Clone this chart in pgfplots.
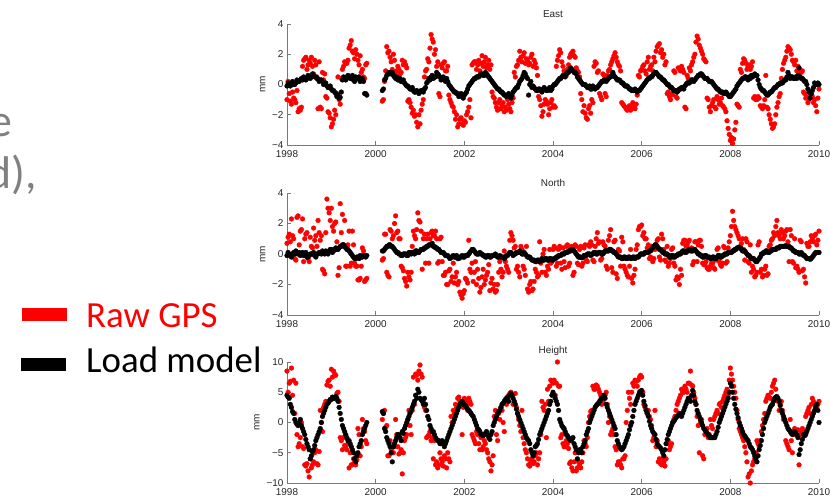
\documentclass[border=0pt]{standalone}
\usepackage{pgfplots}
\pgfplotsset{compat=1.18}
\usepackage{pgfplotstable}
\usepackage{fontspec}
\setmainfont{Carlito}
\newfontfamily\helv{Liberation Sans}
\definecolor{axgray}{RGB}{120,120,120}
\definecolor{slidegray}{RGB}{128,128,128}
\pgfplotstableread{
t eB eR nB nR hB hR
1998.00 -0.1 -1.0 -0.1 0.7 4.5 8.5
1998.05 0.0 -0.6 0.0 1.3 4.0 6.5
1998.10 0.1 -1.3 -0.2 2.3 2.5 9.0
1998.15 0.0 -0.9 0.1 1.0 1.5 7.0
1998.20 0.1 -1.2 0.2 -0.4 0.0 6.5
1998.25 0.2 -1.8 0.0 2.5 -0.5 -4.0
1998.30 0.3 -1.7 -0.1 1.5 0.5 -2.5
1998.35 0.3 1.2 0.1 2.3 -1.0 -4.0
1998.40 0.4 1.7 0.0 1.0 -2.0 -7.0
1998.45 0.4 1.0 -0.2 1.4 -3.5 -6.8
1998.50 0.5 1.6 -0.1 -0.5 -4.5 -9.0
1998.55 0.5 1.8 0.0 0.5 -5.5 -7.5
1998.60 0.6 0.7 0.1 1.7 -4.5 -6.5
1998.65 0.5 1.3 -0.2 1.2 -3.0 -4.5
1998.70 0.35 -1.6 0.0 2.2 -2.0 -7.0
1998.75 0.3 -1.5 0.1 0.9 -1.0 2.0
1998.80 0.2 0.8 0.2 -1.0 1.0 -1.5
1998.85 0.1 0.7 0.0 -1.3 2.0 3.0
1998.90 -0.1 -0.9 0.1 3.6 3.0 6.2
1998.95 -0.2 -1.9 0.2 2.7 3.5 7.0
1999.00 -0.3 -2.8 0.3 3.0 3.8 8.8
1999.05 -0.4 -2.3 0.2 1.5 4.0 8.5
1999.10 -0.6 -2.0 0.4 2.1 4.3 7.8
1999.15 -0.7 0.5 0.3 -1.4 3.5 5.0
1999.20 -0.85 -1.3 0.5 3.3 1.5 -2.5
1999.25 0.3 1.0 0.6 2.6 -0.5 -4.5
1999.30 0.4 1.5 0.5 2.2 -1.5 -3.8
1999.35 0.5 1.4 0.3 -0.8 -2.5 -4.5
1999.40 0.5 2.4 0.2 1.5 -3.0 -7.5
1999.45 0.4 2.9 0.0 -0.6 -4.0 -7.0
1999.50 0.3 2.1 -0.2 0.6 -5.0 -6.0
1999.55 0.5 2.3 -0.3 -0.8 -6.5 -7.0
1999.60 0.4 1.6 -0.2 -1.7 -5.0 -1.0
1999.65 0.2 1.9 -0.1 -1.6 -3.5 -5.5
1999.70 0.4 1.0 -0.2 0.4 -2.0 0.5
1999.75 -0.6 0.4 -0.1 -1.8 -1.0 -1.5
1999.80 -0.7 1.4 -0.1 -1.6 0.0 -3.5
2000.15 -0.4 -1.1 0.2 -0.4 1.8 0.5
2000.20 0.3 0.2 0.3 1.3 -1.0 2.0
2000.25 0.6 2.5 0.5 -1.2 -2.5 -0.5
2000.30 0.8 2.2 0.6 -1.5 -3.5 -5.5
2000.35 0.8 1.5 0.5 1.5 -5.0 -4.5
2000.40 0.6 2.0 0.4 1.2 -4.0 -5.0
2000.45 0.4 0.8 0.2 2.5 -3.0 0.5
2000.50 0.3 1.2 0.1 1.5 -2.0 -4.0
2000.55 0.4 0.7 0.0 1.0 -2.5 -5.0
2000.60 0.2 1.6 -0.1 -0.9 -1.5 -8.5
2000.65 0.1 1.5 0.0 -1.6 -1.0 -3.0
2000.70 -0.1 1.1 -0.1 -2.1 0.0 -2.0
2000.75 -0.2 -1.0 0.1 -1.5 1.0 2.0
2000.80 -0.3 -1.5 0.0 -1.2 2.0 -2.0
2000.85 -0.4 -1.7 0.1 1.5 3.0 7.5
2000.90 -0.5 -2.0 0.2 1.0 4.5 8.0
2000.95 -0.45 -2.8 0.1 2.7 5.5 7.0
2001.00 -0.5 -2.6 0.2 2.1 4.0 9.5
2001.05 -0.4 -1.3 0.3 -1.0 3.5 7.5
2001.10 -0.3 0.5 0.4 1.3 4.0 2.5
2001.15 0.1 1.0 0.5 1.0 2.0 -2.5
2001.20 0.4 1.5 0.6 -0.6 0.5 -2.0
2001.25 0.5 3.3 0.6 1.4 -1.0 -3.0
2001.30 0.4 2.8 0.5 1.2 -1.5 -6.0
2001.35 0.5 2.3 0.4 1.5 -2.5 -7.0
2001.40 0.7 1.5 0.3 -0.6 -3.0 -7.5
2001.45 0.5 -0.8 0.2 1.0 -3.5 -5.0
2001.50 0.4 1.1 0.1 -0.5 -3.0 -6.5
2001.55 0.3 1.5 0.0 -1.4 -4.0 -5.5
2001.60 0.4 0.9 -0.1 -2.0 -3.0 -7.5
2001.65 0.0 -0.7 -0.2 -1.1 -2.0 -6.0
2001.70 -0.2 -1.2 -0.2 -1.8 -1.0 1.0
2001.75 -0.4 -1.5 -0.1 -0.6 0.0 2.0
2001.80 -0.5 -2.3 -0.2 -1.5 1.0 3.0
2001.85 -0.6 -2.8 -0.3 -2.0 2.0 4.0
2001.90 -0.7 -2.3 -0.2 -2.5 3.0 3.5
2001.95 -0.8 -2.6 -0.1 -2.9 3.5 -2.0
2002.00 -0.7 -2.4 -0.2 -2.4 3.0 4.0
2002.05 -0.5 -2.0 -0.1 -1.7 2.5 3.0
2002.10 -0.1 -1.5 0.0 0.9 2.0 4.0
2002.15 0.1 -2.2 0.2 -1.2 1.5 3.0
2002.20 0.3 1.4 0.3 -1.8 1.0 -2.5
2002.25 0.4 1.5 0.1 -0.5 0.0 -3.5
2002.30 0.5 1.3 0.0 -1.0 -1.0 -2.0
2002.35 0.6 0.9 0.1 -2.5 -1.5 -4.5
2002.40 0.7 1.9 0.0 -1.5 -2.0 -4.5
2002.45 0.6 1.5 -0.1 -2.0 -2.0 -3.0
2002.50 0.7 1.1 -0.2 -1.4 -1.5 -4.5
2002.55 0.5 1.6 -0.1 -0.7 -2.5 -6.0
2002.60 0.3 1.3 -0.2 -1.9 -2.0 -8.0
2002.65 0.1 -0.8 -0.1 -2.3 -0.5 -5.5
2002.70 -0.1 -1.2 0.0 -2.5 0.5 2.0
2002.75 -0.3 -1.7 -0.2 -2.0 1.5 -3.0
2002.80 -0.4 -1.0 -0.1 -0.5 2.0 0.5
2002.85 -0.5 -1.4 -0.2 -1.5 3.0 2.0
2002.90 -0.7 -1.8 -0.3 0.2 3.5 -1.5
2002.95 -0.8 -1.7 -0.1 -0.8 4.0 3.0
2003.00 -0.6 -1.3 0.0 -1.2 3.5 4.5
2003.05 -0.9 -1.8 0.1 1.4 4.8 5.0
2003.10 -0.5 -0.9 -0.1 0.9 4.0 3.0
2003.15 -0.3 0.5 0.0 0.5 3.0 4.8
2003.20 -0.2 1.3 0.1 -0.8 1.5 1.5
2003.25 0.2 2.2 0.2 -1.5 0.5 -0.5
2003.30 0.4 1.5 0.0 0.3 -0.5 2.0
2003.35 0.8 2.1 0.1 -1.0 -1.5 -3.5
2003.40 0.5 1.7 -0.1 0.5 -2.5 -5.0
2003.45 -0.7 1.3 -0.2 -2.5 -3.0 -7.0
2003.50 0.2 1.8 -0.3 -1.8 -4.5 -6.5
2003.55 -0.1 1.2 -0.4 -2.3 -5.5 -6.8
2003.60 -0.3 1.4 -0.5 -1.0 -4.0 -5.5
2003.65 -0.4 0.6 -0.4 -1.5 -3.5 -7.0
2003.70 -0.3 -1.0 -0.5 0.8 -2.0 -5.0
2003.75 -0.5 -2.1 -0.3 -1.2 -1.0 3.5
2003.80 -0.2 -1.3 -0.4 0.3 0.0 2.0
2003.85 -0.4 -1.1 -0.3 -1.4 1.0 -2.5
2003.90 -0.3 -2.0 -0.4 -1.0 2.0 3.5
2003.95 -0.4 -1.2 -0.3 -0.6 3.5 7.0
2004.00 -0.1 -1.5 -0.4 0.3 5.0 6.5
2004.05 0.0 -1.5 -0.3 0.4 4.0 4.5
2004.10 0.2 1.6 -0.2 -0.6 3.0 10.0
2004.15 0.4 2.3 -0.1 0.5 0.5 6.0
2004.20 0.5 1.5 0.0 -1.0 -0.5 -2.0
2004.25 0.6 0.9 0.0 -0.5 -1.0 -4.0
2004.30 0.7 0.6 0.1 0.5 -2.0 -3.0
2004.35 0.8 1.3 0.2 -0.8 -2.5 -4.3
2004.40 1.1 2.0 0.2 0.4 -3.0 -6.5
2004.45 0.9 2.2 0.3 -1.4 -2.5 -8.0
2004.50 0.8 1.8 0.1 0.6 -4.0 -5.0
2004.55 0.5 0.9 -0.1 -0.6 -6.0 -7.5
2004.60 0.3 0.5 -0.2 0.3 -4.5 -7.0
2004.65 0.1 -1.0 -0.25 -0.8 -5.0 -6.5
2004.70 0.0 -1.4 -0.1 0.4 -3.5 -3.0
2004.75 -0.1 -2.2 -0.1 -0.4 -2.0 -4.0
2004.80 -0.2 -1.6 0.0 0.6 -1.0 0.0
2004.85 -0.3 -1.9 -0.1 0.8 0.5 1.8
2004.90 -0.1 -1.2 0.0 -0.4 1.5 6.0
2004.95 -0.3 1.5 0.1 0.5 2.5 5.5
2005.00 -0.2 0.8 0.0 1.4 3.0 6.0
2005.05 0.0 -0.6 0.1 0.8 3.5 5.0
2005.10 0.2 -1.0 0.0 -0.3 4.0 3.0
2005.15 0.3 0.6 0.1 0.6 4.5 4.0
2005.20 0.2 -0.8 0.2 -0.8 3.0 5.0
2005.25 0.4 0.9 0.2 0.9 2.0 0.0
2005.30 0.5 1.3 0.3 1.6 1.0 -2.0
2005.35 0.8 1.7 0.2 -1.2 0.0 -1.0
2005.40 0.5 2.1 0.1 0.9 -1.0 -4.0
2005.45 0.3 1.5 -0.1 -1.6 -3.0 -7.0
2005.50 0.3 1.2 -0.2 0.2 -4.0 -6.5
2005.55 0.1 -1.2 -0.3 1.1 -4.5 -7.5
2005.60 0.0 -1.4 -0.2 -0.8 -4.0 -6.0
2005.65 -0.1 -1.6 -0.3 -1.2 -3.0 0.0
2005.70 -0.2 -1.5 -0.2 -1.5 -2.0 5.0
2005.75 -0.3 -1.7 -0.3 0.3 -0.5 3.0
2005.80 -0.4 -1.2 -0.2 -1.9 1.0 6.5
2005.85 -0.3 -1.6 -0.3 -1.0 3.0 7.0
2005.90 -0.5 -0.7 -0.2 0.6 4.0 6.0
2005.95 -0.4 0.5 -0.1 1.8 5.0 7.5
2006.00 -0.2 1.0 0.0 1.9 5.3 7.5
2006.05 0.0 1.3 0.0 1.4 3.5 3.0
2006.10 0.2 0.7 0.1 1.0 2.0 2.0
2006.15 0.4 1.8 0.1 0.6 1.0 2.0
2006.20 0.5 1.2 0.2 -0.2 -0.5 0.5
2006.25 0.6 0.9 0.4 -0.5 -1.5 -3.0
2006.30 0.8 1.5 0.6 0.3 -2.0 2.0
2006.35 0.7 2.5 0.5 0.9 -3.5 -3.0
2006.40 0.5 2.7 0.3 -0.2 -4.0 -6.0
2006.45 0.4 2.3 0.2 1.3 -4.5 -7.0
2006.50 0.3 2.0 0.1 0.3 -5.5 -6.5
2006.55 0.1 1.5 0.0 -0.5 -3.5 -6.0
2006.60 0.0 -0.5 -0.1 -0.8 -2.0 -3.0
2006.65 -0.2 -1.0 -0.2 -0.3 -1.0 -4.0
2006.70 -0.3 -0.6 -0.1 0.4 0.0 0.0
2006.75 -0.4 0.8 -0.2 -0.8 0.5 1.0
2006.80 -0.5 -0.9 -0.1 -1.5 1.0 3.0
2006.85 -0.3 1.0 0.0 -2.0 1.5 4.0
2006.90 -0.2 1.2 0.1 -1.4 1.0 5.5
2006.95 -0.3 0.8 0.2 0.9 2.0 5.0
2007.00 0.0 -1.6 0.1 0.5 3.0 5.5
2007.05 0.1 0.4 0.2 0.8 4.0 6.5
2007.10 0.2 0.9 0.3 0.2 3.5 8.5
2007.15 0.3 1.5 0.2 -0.7 5.3 6.0
2007.20 0.3 2.0 0.3 0.8 3.5 4.0
2007.25 0.5 3.2 0.1 -0.5 2.0 1.0
2007.30 0.6 2.6 0.0 0.9 1.0 -5.0
2007.35 0.7 2.2 -0.1 0.5 0.0 0.5
2007.40 0.5 1.7 -0.2 -0.7 -1.0 -6.0
2007.45 0.4 1.5 -0.1 -0.5 -1.5 -1.5
2007.50 0.3 -1.0 -0.2 -1.0 -2.0 -2.5
2007.55 0.2 -1.8 -0.3 -0.8 -2.5 0.5
2007.60 0.1 -1.2 -0.2 -0.6 -2.5 -1.0
2007.65 -0.1 -1.5 -0.3 -1.0 -2.5 1.0
2007.70 -0.3 -0.8 -0.2 0.3 -1.5 2.0
2007.75 -0.4 -1.3 -0.1 -0.5 0.0 3.0
2007.80 -0.5 -0.9 -0.2 -0.8 1.0 2.5
2007.85 -0.6 -1.5 -0.1 0.5 2.0 4.0
2007.90 -0.5 -1.8 0.0 -0.6 3.0 5.0
2007.95 -0.7 -2.9 0.1 0.4 4.0 4.5
2008.00 -0.8 -3.7 0.1 1.2 6.5 9.0
2008.05 -0.6 -3.9 0.2 2.8 5.0 7.0
2008.10 -0.4 -3.0 0.3 1.8 3.0 5.0
2008.15 -0.1 -1.3 0.4 1.4 1.5 2.0
2008.20 0.1 -1.5 0.45 1.0 0.0 -1.0
2008.25 0.3 0.8 0.3 0.7 -1.0 -2.0
2008.30 0.4 1.7 0.2 0.3 -2.0 -3.0
2008.35 0.5 1.4 0.1 1.0 -2.5 -5.0
2008.40 0.3 1.2 -0.1 -0.5 -3.0 -9.0
2008.45 0.4 1.0 -0.2 0.6 -4.0 -10.0
2008.50 0.5 1.5 -0.3 -0.8 -4.5 -7.0
2008.55 0.7 -0.8 -0.4 -1.5 -5.5 -6.0
2008.60 0.6 -1.0 -0.5 -1.2 -6.5 -3.0
2008.65 0.0 -0.9 -0.3 0.8 -4.5 -4.0
2008.70 -0.3 -1.5 0.0 -1.0 -3.0 -1.5
2008.75 -0.4 -1.4 0.1 -1.4 -1.0 0.5
2008.80 -0.6 0.6 0.2 -0.8 0.5 3.5
2008.85 -0.7 -1.6 0.1 -1.3 1.5 4.5
2008.90 -0.5 -2.3 0.2 0.6 2.5 4.0
2008.95 -0.4 -2.9 0.3 1.0 3.0 6.0
2009.00 -0.2 -2.6 0.3 1.2 4.0 7.0
2009.05 -0.1 -1.5 0.4 2.2 4.3 4.0
2009.10 0.0 -0.8 0.4 1.2 3.5 2.0
2009.15 0.1 0.4 0.5 1.6 2.0 3.5
2009.20 0.2 1.4 0.5 1.0 1.0 0.5
2009.25 0.3 1.8 0.55 1.5 0.0 -3.0
2009.30 0.8 2.5 0.5 0.8 -1.0 -4.0
2009.35 0.4 2.3 0.4 1.6 -1.5 0.5
2009.40 0.5 1.6 0.3 -0.5 -2.0 -5.0
2009.45 0.4 1.3 0.2 1.0 -1.5 -1.0
2009.50 0.4 0.9 0.1 -0.8 -2.0 -2.0
2009.55 1.1 1.0 0.0 -1.2 -5.3 -7.0
2009.60 0.4 0.8 0.1 0.8 -3.5 -1.5
2009.65 0.3 -0.5 -0.1 -1.0 -2.0 -2.0
2009.70 0.2 -0.9 -0.2 -1.9 -2.0 1.0
2009.75 -0.3 -1.2 -0.3 0.5 -1.0 2.0
2009.80 -0.9 -0.6 -0.35 0.8 0.0 1.5
2009.85 -0.4 -0.8 -0.2 1.0 1.0 4.0
2009.90 0.1 -1.0 0.0 1.2 2.0 3.0
2009.95 0.0 -1.8 0.1 0.6 3.0 2.5
2010.00 0.0 -0.3 0.1 1.5 0.0 3.5
}\gpsa
\pgfplotstableread{
t eB eR nB nR hB hR
1998.025 0.1 0.2 0.1 1.1 4.2 5.0
1998.075 -0.1 -1.1 -0.1 0.8 3.0 6.8
1998.125 0.2 -0.5 0.0 1.2 1.8 4.5
1998.175 0.0 -1.0 0.0 -0.3 0.5 1.5
1998.225 0.3 -0.4 0.1 2.4 -0.3 -2.0
1998.275 0.2 -1.6 0.1 0.6 0.0 -3.5
1998.325 0.4 -1.5 0.0 1.6 -0.5 0.0
1998.375 0.5 1.6 -0.1 -0.5 -1.5 -4.3
1998.425 0.3 1.8 0.1 1.3 -2.8 -7.2
1998.475 0.6 1.3 -0.2 -0.3 -4.0 -8.0
1998.525 0.4 1.4 0.0 1.1 -6.0 -6.0
1998.575 0.7 1.2 0.0 0.4 -4.8 -7.0
1998.625 0.5 1.6 -0.1 0.9 -3.8 -5.0
1998.675 0.4 0.5 0.0 0.5 -2.5 -6.8
1998.725 0.2 1.5 0.1 1.4 -1.5 -4.8
1998.775 0.3 -1.6 0.0 1.2 0.0 0.0
1998.825 0.0 0.3 0.1 -1.1 1.5 2.5
1998.875 0.1 -0.8 0.2 1.4 2.5 3.5
1998.925 -0.2 -1.8 0.0 3.0 3.2 6.8
1998.975 -0.1 -2.2 0.3 2.2 3.8 6.0
1999.025 -0.4 -2.6 0.1 1.8 4.2 7.5
1999.075 -0.5 -1.7 0.3 2.0 4.0 8.0
1999.125 -0.8 -0.6 0.3 0.8 4.0 4.8
1999.175 -0.9 -1.0 0.4 -0.9 2.5 3.5
1999.225 -0.5 0.4 0.5 1.4 0.5 -3.0
1999.275 0.5 1.2 0.6 0.6 -1.0 -2.5
1999.325 0.3 1.4 0.4 -0.8 -2.0 -4.0
1999.375 0.6 1.6 0.3 0.6 -3.0 -3.5
1999.425 0.4 2.6 0.1 -0.8 -3.5 -5.0
1999.475 0.6 2.2 -0.1 1.5 -4.5 -7.0
1999.525 0.2 1.7 -0.3 -0.6 -6.0 -6.5
1999.575 0.4 2.0 -0.2 -0.8 -5.5 -6.2
1999.625 0.5 1.3 -0.3 -1.7 -4.0 -2.0
1999.675 0.3 0.8 -0.2 -0.8 -3.0 -4.0
1999.725 0.2 0.5 -0.1 0.2 -1.5 -1.0
1999.775 -0.6 1.3 -0.2 -1.7 -0.5 -3.0
2000.175 -0.3 -1.0 0.2 -0.3 1.5 1.5
2000.225 0.4 0.9 0.4 1.3 -1.5 -0.8
2000.275 0.7 2.1 0.5 -1.4 -3.0 -5.5
2000.325 0.7 1.8 0.6 1.6 -4.0 -3.0
2000.375 0.8 1.0 0.5 1.0 -6.5 -5.0
2000.425 0.5 1.6 0.3 2.0 -3.5 -4.0
2000.475 0.5 0.9 0.1 1.4 -2.5 -2.0
2000.525 0.3 1.0 0.0 1.0 -2.0 -5.2
2000.575 0.2 0.8 -0.1 -0.8 -3.0 -4.5
2000.625 0.3 1.3 0.0 -1.1 -1.8 -5.0
2000.675 0.0 1.3 0.0 -1.8 -0.5 -2.5
2000.725 -0.1 -1.1 -0.1 -1.2 0.5 0.5
2000.775 -0.3 -1.2 0.1 -1.7 1.5 -0.5
2000.825 -0.2 -1.9 0.1 0.5 2.5 2.0
2000.875 -0.5 -2.1 0.0 1.2 3.5 3.0
2000.925 -0.4 -2.5 0.2 1.6 4.0 7.8
2000.975 -0.6 -2.0 0.1 2.2 5.0 8.5
2001.025 -0.4 -1.7 0.3 1.5 3.8 8.0
2001.075 -0.5 -1.0 0.3 1.0 3.0 3.5
2001.125 -0.2 0.9 0.4 -0.6 3.0 2.0
2001.175 0.2 1.7 0.5 1.3 1.0 -2.3
2001.225 0.3 2.4 0.6 1.0 -0.5 -1.5
2001.275 0.6 3.0 0.7 1.5 -1.5 -2.5
2001.325 0.5 2.0 0.5 1.2 -2.0 -3.0
2001.375 0.8 1.2 0.4 1.0 -2.8 -6.5
2001.425 0.6 -0.6 0.3 -0.5 -3.0 -7.0
2001.475 0.3 1.3 0.1 1.1 -3.5 -6.0
2001.525 0.5 1.4 0.1 -1.4 -3.5 -7.2
2001.575 0.2 0.9 -0.1 -1.2 -3.5 -6.0
2001.625 0.2 1.2 -0.1 -2.0 -2.5 -5.0
2001.675 -0.1 -1.0 -0.3 -1.0 -1.5 -6.5
2001.725 -0.3 -1.4 -0.2 -1.5 -0.5 0.0
2001.775 -0.5 -1.8 -0.2 -1.9 0.5 1.5
2001.825 -0.6 -2.0 -0.1 -1.2 1.5 2.5
2001.875 -0.8 -2.6 -0.3 -1.8 2.5 4.2
2001.925 -0.6 -2.2 -0.2 -2.7 3.2 3.0
2001.975 -0.9 -2.7 -0.2 -2.6 3.0 2.5
2002.025 -0.6 -2.5 -0.1 -1.6 2.8 3.5
2002.075 -0.3 -1.8 -0.1 -1.9 2.2 2.0
2002.125 0.0 -1.0 0.1 -1.0 1.8 3.5
2002.175 0.2 1.3 0.3 -0.6 1.2 -2.0
2002.225 0.4 1.5 0.2 -1.2 0.5 -3.0
2002.275 0.5 1.0 0.0 -2.0 -0.5 -1.5
2002.325 0.5 1.6 0.0 -1.6 -1.2 -3.5
2002.375 0.7 1.4 0.0 -2.2 -2.0 -2.5
2002.425 0.6 1.2 -0.1 -1.0 -2.2 -4.0
2002.475 0.8 1.8 -0.2 -1.7 -1.8 -3.5
2002.525 0.6 1.3 -0.1 -1.2 -2.0 -5.0
2002.575 0.4 1.0 -0.2 -2.4 -2.8 -6.5
2002.625 0.2 -0.5 -0.1 -1.6 -1.5 -7.0
2002.675 0.0 -0.9 -0.1 -2.0 0.0 1.0
2002.725 -0.2 -1.5 -0.1 -2.4 1.0 -2.0
2002.775 -0.3 -1.2 -0.2 -1.2 1.8 1.5
2002.825 -0.5 -1.6 -0.2 -1.0 2.5 2.5
2002.875 -0.6 -1.2 -0.2 -1.2 3.2 0.0
2002.925 -0.7 -1.5 -0.2 -0.5 3.8 3.5
2002.975 -0.7 -1.0 -0.1 -1.0 4.2 4.0
2003.025 -0.8 -1.6 0.1 0.9 4.5 4.8
2003.075 -0.7 -1.2 0.0 1.2 4.5 4.5
2003.125 -0.4 0.8 0.0 0.4 3.5 3.5
2003.175 -0.2 1.2 0.1 -1.0 2.2 2.5
2003.225 0.0 1.6 0.1 -1.2 1.0 0.5
2003.275 0.3 1.8 0.1 0.5 0.0 -1.5
2003.325 0.6 1.9 0.0 -0.8 -1.0 -2.5
2003.375 0.7 1.4 0.0 -1.4 -2.0 -4.5
2003.425 0.4 1.6 -0.2 -2.3 -2.8 -6.0
2003.475 0.0 1.4 -0.2 -2.0 -3.5 -7.2
2003.525 -0.2 2.0 -0.4 -2.4 -5.0 -6.0
2003.575 -0.2 1.6 -0.4 -1.8 -5.0 -6.5
2003.625 -0.4 1.1 -0.5 -1.2 -3.8 -5.0
2003.675 -0.3 -0.8 -0.4 -1.4 -2.8 -6.0
2003.725 -0.4 -1.4 -0.4 -0.6 -1.5 -2.0
2003.775 -0.3 -1.8 -0.4 0.0 -0.5 2.5
2003.825 -0.3 -1.0 -0.3 -1.2 0.5 3.0
2003.875 -0.4 -1.3 -0.4 -0.8 1.5 5.5
2003.925 -0.2 -1.6 -0.3 0.3 3.0 6.0
2003.975 -0.3 -1.0 -0.4 -0.5 4.5 6.8
2004.025 0.0 -1.4 -0.3 0.5 4.5 7.0
2004.075 0.1 1.2 -0.2 -0.8 3.5 6.5
2004.125 0.3 1.9 -0.1 0.3 2.0 6.0
2004.175 0.4 2.1 -0.1 -0.6 0.0 -2.5
2004.225 0.6 1.2 0.0 0.4 -0.8 -3.5
2004.275 0.5 0.8 0.1 -0.9 -1.5 -4.0
2004.325 0.8 1.0 0.1 0.6 -2.2 -3.5
2004.375 0.9 1.8 0.2 -0.6 -2.8 -6.8
2004.425 1.0 2.1 0.3 0.5 -2.8 -7.5
2004.475 0.8 1.9 0.2 -1.2 -3.5 -6.5
2004.525 0.7 1.1 0.0 0.5 -4.5 -8.0
2004.575 0.4 0.8 -0.2 -0.7 -5.0 -6.5
2004.625 0.2 -0.6 -0.2 0.5 -4.5 -7.5
2004.675 0.0 -1.8 -0.2 -0.6 -4.0 -5.0
2004.725 0.0 -1.9 -0.1 0.6 -3.0 -3.5
2004.775 -0.2 -2.3 0.0 -0.5 -1.5 -2.5
2004.825 -0.1 -1.4 0.0 0.5 0.0 1.0
2004.875 -0.3 -1.0 0.0 0.6 1.0 2.0
2004.925 -0.2 1.2 0.1 -0.5 2.0 5.5
2004.975 -0.2 1.4 0.0 1.0 2.8 6.2
2005.025 -0.1 0.9 0.1 0.7 3.2 5.5
2005.075 0.1 -0.8 0.1 -0.4 3.8 4.5
2005.125 0.2 0.7 0.0 0.8 4.2 3.5
2005.175 0.3 -0.6 0.2 0.5 4.0 4.5
2005.225 0.3 0.6 0.2 -1.0 2.5 3.0
2005.275 0.5 1.0 0.3 1.2 1.5 1.0
2005.325 0.6 1.5 0.2 -0.9 0.5 -1.5
2005.375 0.6 1.9 0.1 0.8 -0.5 -2.0
2005.425 0.4 1.8 0.0 -1.3 -2.0 -4.5
2005.475 0.3 1.3 -0.2 0.3 -3.5 -6.5
2005.525 0.2 0.9 -0.2 -0.8 -4.3 -7.0
2005.575 0.1 -1.3 -0.3 0.8 -4.3 -6.0
2005.625 -0.1 -1.5 -0.2 -1.0 -3.5 -5.5
2005.675 -0.1 -1.7 -0.3 -1.4 -2.5 2.0
2005.725 -0.3 -1.4 -0.2 -0.8 -1.2 4.0
2005.775 -0.4 -1.6 -0.3 -1.6 0.0 5.0
2005.825 -0.4 -1.4 -0.2 -1.4 2.0 6.0
2005.875 -0.4 -1.3 -0.2 0.3 3.5 6.8
2005.925 -0.4 0.6 -0.2 1.6 4.5 7.0
2005.975 -0.3 0.9 0.0 1.8 5.2 7.8
2006.025 -0.1 1.2 0.0 1.2 4.5 5.0
2006.075 0.1 0.9 0.1 1.0 2.8 2.5
2006.125 0.3 1.5 0.1 0.4 1.5 1.5
2006.175 0.4 1.0 0.2 -0.3 0.2 1.0
2006.225 0.5 1.3 0.3 0.5 -1.0 -0.5
2006.275 0.7 1.8 0.5 -0.3 -1.8 -2.5
2006.325 0.8 2.2 0.6 0.6 -2.8 -4.0
2006.375 0.6 2.6 0.4 1.0 -3.8 -6.5
2006.425 0.5 2.1 0.3 -0.4 -4.2 -6.8
2006.475 0.3 1.8 0.1 1.0 -5.0 -6.0
2006.525 0.2 1.3 0.0 -0.4 -4.5 -7.2
2006.575 0.0 -0.6 0.0 0.5 -2.8 -3.5
2006.625 -0.1 -0.8 -0.2 -0.6 -1.5 -4.5
2006.675 -0.2 -0.7 -0.1 0.3 -0.5 -3.5
2006.725 -0.4 0.9 -0.2 -0.6 0.2 0.5
2006.775 -0.4 -0.8 -0.1 -1.7 0.8 2.0
2006.825 -0.4 1.1 0.0 -1.6 1.2 3.5
2006.875 -0.3 0.9 0.0 -1.0 1.2 4.5
2006.925 -0.2 1.0 0.2 0.7 1.5 5.0
2006.975 -0.1 -1.5 0.1 0.9 2.5 6.0
2007.025 0.1 0.6 0.2 0.6 3.5 5.0
2007.075 0.1 1.1 0.3 0.9 4.0 6.5
2007.125 0.3 1.3 0.2 0.4 4.5 6.2
2007.175 0.2 1.8 0.3 -0.5 4.5 5.0
2007.225 0.4 2.8 0.2 0.8 3.0 3.0
2007.275 0.6 3.0 0.0 0.6 1.5 -0.5
2007.325 0.7 2.4 -0.1 0.9 0.5 0.0
2007.375 0.6 2.0 -0.2 -0.6 -0.5 -5.5
2007.425 0.4 1.6 -0.1 -0.7 -1.2 -2.0
2007.475 0.4 -0.9 -0.2 -0.9 -1.8 -1.0
2007.525 0.2 -1.5 -0.2 -1.0 -2.2 -2.0
2007.575 0.2 -1.4 -0.3 -0.6 -2.5 -0.5
2007.625 0.0 -1.0 -0.2 -0.9 -2.5 0.5
2007.675 -0.2 -1.6 -0.3 -0.4 -2.0 1.5
2007.725 -0.3 -1.0 -0.1 0.4 -0.8 1.5
2007.775 -0.5 -1.2 -0.2 -0.7 0.5 3.2
2007.825 -0.5 -1.4 -0.1 -0.6 1.5 3.5
2007.875 -0.6 -1.6 0.0 0.4 2.5 4.5
2007.925 -0.6 -2.4 0.0 -0.5 3.5 5.5
2007.975 -0.8 -3.3 0.1 0.8 5.0 7.0
2008.025 -0.7 -3.5 0.1 1.8 6.0 8.0
2008.075 -0.5 -3.6 0.2 2.2 4.0 6.0
2008.125 -0.3 -2.5 0.3 1.6 2.2 4.0
2008.175 0.0 -1.4 0.4 1.2 0.8 0.5
2008.225 0.2 1.0 0.4 0.5 -0.5 -1.5
2008.275 0.4 1.4 0.2 1.0 -1.5 -2.5
2008.325 0.5 1.6 0.2 -0.4 -2.2 -4.0
2008.375 0.4 1.0 0.0 0.8 -2.8 -6.5
2008.425 0.5 1.3 -0.1 -0.6 -3.5 -8.5
2008.475 0.6 1.2 -0.3 -1.2 -4.2 -8.0
2008.525 0.6 -0.9 -0.3 -1.0 -5.0 -6.5
2008.575 0.6 -1.0 -0.5 -1.4 -6.0 -5.0
2008.625 0.3 -0.8 -0.4 0.6 -5.5 -3.5
2008.675 -0.2 -1.4 -0.2 -1.2 -3.8 -3.0
2008.725 -0.4 -1.6 0.0 -1.5 -2.0 -0.5
2008.775 -0.5 -1.0 0.1 -1.0 0.0 1.5
2008.825 -0.7 -1.5 0.2 -1.4 1.0 4.0
2008.875 -0.6 -2.0 0.1 0.5 2.0 4.2
2008.925 -0.5 -2.6 0.2 0.9 2.8 5.0
2008.975 -0.3 -2.8 0.3 1.4 3.5 6.5
2009.025 -0.2 -2.0 0.3 1.8 4.2 5.5
2009.075 0.0 -1.2 0.4 1.4 4.0 3.5
2009.125 0.1 -0.6 0.5 1.0 2.8 3.0
2009.175 0.1 1.0 0.5 1.4 1.5 2.0
2009.225 0.3 1.6 0.5 1.2 0.5 0.5
2009.275 0.5 2.2 0.5 1.6 -0.5 -3.5
2009.325 0.6 2.4 0.5 -0.5 -1.2 -4.5
2009.375 0.5 2.0 0.4 1.2 -1.8 -3.0
2009.425 0.4 1.5 0.2 -0.6 -1.8 -1.5
2009.475 0.5 1.6 0.1 -0.9 -1.8 -2.0
2009.525 0.6 1.2 0.1 -1.0 -2.5 -1.2
2009.575 0.5 0.9 0.0 0.9 -4.5 -2.0
2009.625 0.4 0.9 0.0 -1.1 -2.8 -1.0
2009.675 0.2 -0.6 -0.1 -1.5 -2.2 -1.5
2009.725 0.0 -0.8 -0.3 0.7 -1.5 1.5
2009.775 -0.5 -1.0 -0.3 0.5 -0.5 2.5
2009.825 -0.6 -0.7 -0.3 1.2 0.5 3.0
2009.875 -0.2 -1.2 -0.1 0.8 1.5 3.5
2009.925 0.0 -1.4 0.1 1.3 2.5 2.8
2009.975 0.1 -0.9 0.1 0.9 2.0 3.0
}\gpsb
\pgfplotsset{
  panel/.style={
    scale only axis, width=532bp,
    anchor=south west,
    xmin=1998, xmax=2010,
    axis x line=bottom, axis y line=left,
    axis line style={axgray,-,line width=0.6pt},
    tick style={axgray,line width=0.6pt},
    tick align=inside,
    major tick length=4bp,
    xtick={1998,2000,2002,2004,2006,2008,2010},
    xticklabels={1998,2000,2002,2004,2006,2008,2010},
    /pgf/number format/assume math mode=true,
    ticklabel style={font=\helv\fontsize{10}{10}\selectfont, text=black!85},
    xticklabel style={yshift=-2bp},
    title style={font=\helv\fontsize{10}{10}\selectfont, text=black!85, yshift=-3bp},
    ylabel={mm},
    ylabel style={font=\helv\fontsize{10}{10}\selectfont, text=black!85},
    clip=false,
  },
  rawgps/.style={only marks, mark=*, mark size=2.4bp, color=red, line width=0.3pt},
  loadm/.style={only marks, mark=*, mark size=2.4bp, color=black, line width=0.3pt},
}
\begin{document}
\begin{tikzpicture}[x=1bp,y=1bp]
\useasboundingbox (0,0) rectangle (830bp,496bp);
% cut-off slide text
\node[anchor=base east, inner sep=0, text=slidegray, font=\fontsize{46}{46}\selectfont] at (13bp,359bp) {e};
\node[anchor=base east, inner sep=0, text=slidegray, font=\fontsize{46}{46}\selectfont] at (37bp,307bp) {d),};
% legend
\fill[red] (22bp,175bp) rectangle (67bp,188bp);
\fill[black] (21bp,125bp) rectangle (66bp,138bp);
\node[anchor=base west, inner sep=0, text=red, font=\fontsize{37}{37}\selectfont] at (86bp,168bp) {Raw GPS};
\node[anchor=base west, inner sep=0, text=black, font=\fontsize{37}{37}\selectfont] at (86bp,123bp) {Load model};
% East
\begin{axis}[panel, at={(287bp,351bp)}, height=121bp, ymin=-4, ymax=4,
  ytick={-4,-2,0,2,4}, yticklabels={−4,−2,0,2,4}, title={East}]
\addplot[rawgps] table[x=t,y=eR]{\gpsa};
\addplot[rawgps] table[x=t,y=eR]{\gpsb};
\addplot[loadm] table[x=t,y=eB]{\gpsa};
\addplot[loadm] table[x=t,y=eB]{\gpsb};
\end{axis}
% North
\begin{axis}[panel, at={(287bp,181bp)}, height=122bp, ymin=-4, ymax=4,
  ytick={-4,-2,0,2,4}, yticklabels={−4,−2,0,2,4}, title={North}]
\addplot[rawgps] table[x=t,y=nR]{\gpsa};
\addplot[rawgps] table[x=t,y=nR]{\gpsb};
\addplot[loadm] table[x=t,y=nB]{\gpsa};
\addplot[loadm] table[x=t,y=nB]{\gpsb};
\end{axis}
% Height
\begin{axis}[panel, at={(287bp,13bp)}, height=121bp, ymin=-10, ymax=10,
  ytick={-10,-5,0,5,10}, yticklabels={−10,−5,0,5,10}, title={Height}]
\addplot[rawgps] table[x=t,y=hR]{\gpsa};
\addplot[rawgps] table[x=t,y=hR]{\gpsb};
\addplot[loadm] table[x=t,y=hB]{\gpsa};
\addplot[loadm] table[x=t,y=hB]{\gpsb};
\end{axis}
\end{tikzpicture}
\end{document}
